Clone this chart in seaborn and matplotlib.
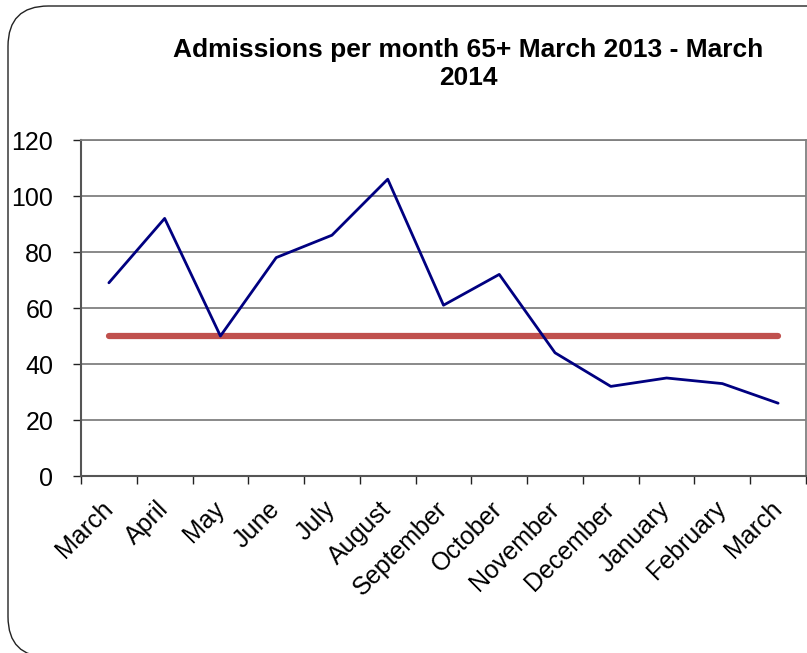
import matplotlib
matplotlib.use("Agg")
import matplotlib.pyplot as plt
from matplotlib.patches import FancyBboxPatch
from matplotlib.ticker import FixedLocator, NullFormatter
import seaborn as sns
import pandas as pd
import numpy as np

months = ["March", "April", "May", "June", "July", "August", "September",
          "October", "November", "December", "January", "February", "March"]
admissions = [69, 92, 50, 78, 86, 106, 61, 72, 44, 32, 35, 33, 26]
target = 50
y_ticks = [0, 20, 40, 60, 80, 100, 120]

sns.set_theme(style="white")
plt.rcParams["font.family"] = ["Liberation Sans", "DejaVu Sans"]
plt.rcParams["text.color"] = "black"
plt.rcParams["xtick.color"] = "black"
plt.rcParams["ytick.color"] = "black"

fig = plt.figure(figsize=(8.07, 6.53), dpi=100)
ax = fig.add_axes([81 / 807, 1 - 476 / 653, 725 / 807, 336 / 653])

# rounded outer frame (bottom and right edges run past the canvas)
frame = FancyBboxPatch((8 / 807, -4 / 653), 1.2, 651 / 653,
                       boxstyle="round,pad=0,rounding_size=0.05",
                       transform=fig.transFigure, facecolor="none",
                       edgecolor="#222222", linewidth=1.0, zorder=0,
                       mutation_aspect=807 / 653)
fig.patches.append(frame)

df = pd.DataFrame({"pos": np.arange(len(months)), "admissions": admissions,
                   "target": [target] * len(months)})

sns.lineplot(data=df, x="pos", y="target", ax=ax, color="#C0504D",
             linewidth=4.5, solid_capstyle="round", zorder=3)
sns.lineplot(data=df, x="pos", y="admissions", ax=ax, color="#000080",
             linewidth=2.0, zorder=4)

ax.set_xlim(-0.5, len(months) - 0.5)
ax.set_ylim(0, 120)
ax.set_yticks(y_ticks)
ax.set_yticklabels([str(v) for v in y_ticks], fontsize=18)
ax.yaxis.grid(True, color="#808080", linewidth=1.3)
ax.set_axisbelow(True)

ax.set_xticks(np.arange(len(months)))
ax.set_xticklabels(months, rotation=45, ha="right", va="center",
                   rotation_mode="anchor", fontsize=18)
ax.tick_params(axis="x", which="major", length=0, pad=21)
ax.xaxis.set_minor_locator(FixedLocator(np.arange(-0.5, len(months), 1.0)))
ax.xaxis.set_minor_formatter(NullFormatter())
ax.tick_params(axis="x", which="minor", length=6, width=1, color="#222222",
               direction="out", bottom=True)
ax.tick_params(axis="y", length=6, width=1, color="#222222", direction="out",
               left=True, pad=14)

ax.set_xlabel("")
ax.set_ylabel("")
for side in ["left", "bottom"]:
    ax.spines[side].set_color("#555555")
    ax.spines[side].set_linewidth(1.5)
for side in ["top", "right"]:
    ax.spines[side].set_color("#808080")
    ax.spines[side].set_linewidth(1.3)

fig.text(468 / 807, 1 - 64 / 653,
         "Admissions per month 65+ March 2013 - March\n2014",
         ha="center", va="center", fontsize=19, fontweight="bold",
         linespacing=1.2)

fig.savefig("out.png", dpi=100)
